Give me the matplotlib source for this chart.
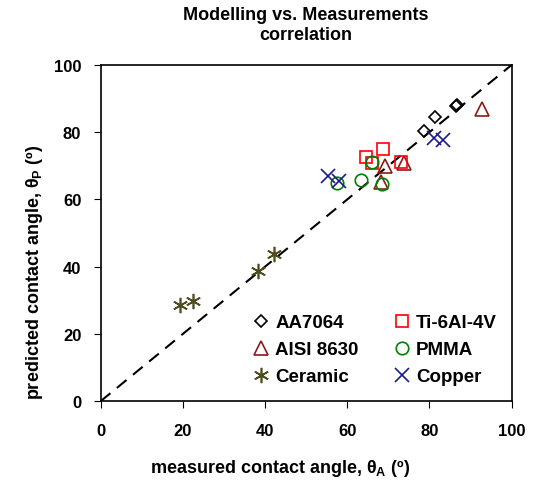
import numpy as np
import matplotlib
matplotlib.use("Agg")
import matplotlib.pyplot as plt

plt.rcParams['font.family'] = ['Liberation Sans', 'DejaVu Sans']
plt.rcParams['font.weight'] = 'bold'
plt.rcParams['mathtext.fontset'] = 'custom'
plt.rcParams['mathtext.rm'] = 'Liberation Sans:bold'
plt.rcParams['mathtext.bf'] = 'Liberation Sans:bold'

# measured (x) vs predicted (y) contact angles per material
aa_x = [78.7, 81.4, 86.4, 86.8]
aa_y = [80.4, 84.5, 87.8, 88.1]
aisi_x = [92.7, 73.8, 69.2, 68.2]
aisi_y = [86.9, 70.8, 69.9, 65.2]
ceramic_x = [19.4, 22.5, 38.3, 42.1]
ceramic_y = [28.6, 29.8, 38.7, 43.8]
ti_x = [64.6, 68.8, 66.1, 73.1]
ti_y = [72.6, 75.0, 70.8, 71.1]
pmma_x = [65.9, 63.4, 68.5, 57.6]
pmma_y = [71.1, 65.8, 64.6, 64.9]
cu_x = [55.2, 58.1, 81.1, 83.3]
cu_y = [67.0, 65.5, 78.3, 77.7]

fig = plt.figure(figsize=(5.33, 4.81), dpi=100)
ax = fig.add_axes([0.189, 0.164, 0.771, 0.699])

ax.plot([0, 100], [0, 100], color='black', ls=(0, (6, 4)), lw=1.5, zorder=1)

ax.plot(aa_x, aa_y, ls='none', marker='D', ms=6.5, mfc='none', mec='black', mew=1.2, label='AA7064')
ax.plot(aisi_x, aisi_y, ls='none', marker='^', ms=10, mfc='none', mec='#8b1a1a', mew=1.2, label='AISI 8630')
ax.plot(ceramic_x, ceramic_y, ls='none', marker=(6, 2, 0), ms=11, mfc='none', mec='#4d4d1f', mew=1.2, label='Ceramic')
ax.plot(ti_x, ti_y, ls='none', marker='s', ms=9, mfc='none', mec='red', mew=1.2, label='Ti-6Al-4V')
ax.plot(pmma_x, pmma_y, ls='none', marker='o', ms=9, mfc='none', mec='green', mew=1.2, label='PMMA')
ax.plot(cu_x, cu_y, ls='none', marker='x', ms=10, mfc='none', mec='#1a1a8c', mew=1.2, label='Copper')

ax.set_xlim(0, 100)
ax.set_ylim(0, 100)
ax.set_xticks(np.arange(0, 101, 20))
ax.set_yticks(np.arange(0, 101, 20))
ax.tick_params(direction='out', length=5, labelsize=12)
ax.tick_params(axis='x', pad=11)
ax.tick_params(axis='y', pad=9)
for lbl in ax.get_xticklabels() + ax.get_yticklabels():
    lbl.set_fontweight('bold')
for s in ax.spines.values():
    s.set_linewidth(1.2)

ax.set_xlabel('measured contact angle, θ$_\\mathregular{A}$ (º)', fontsize=13, fontweight='bold', va='center')
ax.set_ylabel('predicted contact angle, θ$_\\mathregular{P}$ (º)', fontsize=13, fontweight='bold', va='center')
ax.xaxis.set_label_coords(0.436, -0.196)
ax.yaxis.set_label_coords(-0.162, 0.387)
ax.set_title('Modelling vs. Measurements\ncorrelation', fontsize=13, fontweight='bold', pad=19)

ax.legend(ncol=2, loc='lower right', bbox_to_anchor=(1.005, -0.003), frameon=False,
          prop={'size': 13.5, 'weight': 'bold'}, handletextpad=0.05, columnspacing=1.6,
          handlelength=1.4, labelspacing=0.52, markerscale=1.0)

fig.savefig('out.png', dpi=100)
